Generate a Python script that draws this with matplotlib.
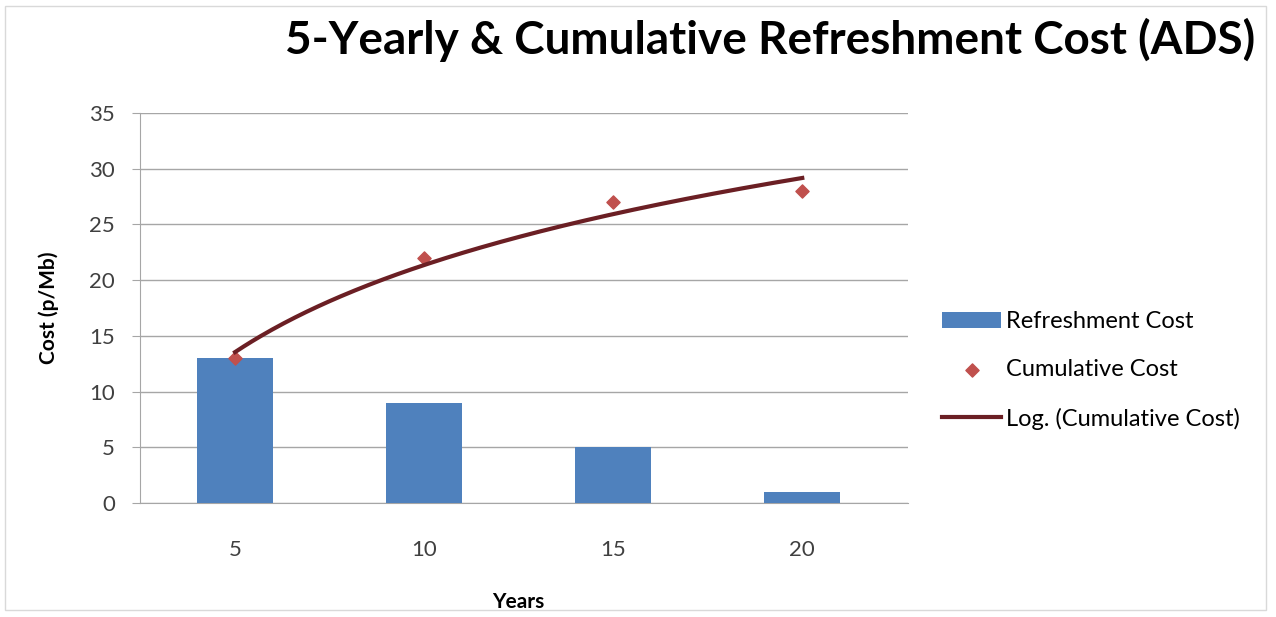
import numpy as np
from matplotlib import pyplot as plt
from matplotlib.patches import Rectangle

years = ['5', '10', '15', '20']
refreshment_cost = [13, 9, 5, 1]
cumulative_cost = [13, 22, 27, 28]

plt.rcParams['font.family'] = ['Lato', 'DejaVu Sans']

fig = plt.figure(figsize=(12.76, 6.17), dpi=100)
ax = fig.add_axes([0.1097, 0.1848, 0.602, 0.632])

x = np.arange(len(years))
bars = ax.bar(x, refreshment_cost, 0.4, color='#4F81BD', label='Refreshment Cost', zorder=3)
pts = ax.scatter(x, cumulative_cost, marker='D', s=45, color='#C0504D',
                 label='Cumulative Cost', zorder=4)

# Excel-style log trendline, y = a*ln(k) + b with k = 1..n
k = x + 1
a, b = np.polyfit(np.log(k), cumulative_cost, 1)
kk = np.linspace(1, len(years), 200)
line, = ax.plot(kk - 1, a * np.log(kk) + b, color='#6B1F24', lw=3,
                label='Log. (Cumulative Cost)', zorder=5)

ax.set_xlim(-0.503, 3.56)
ax.set_ylim(0, 35)
ax.set_yticks(range(0, 36, 5))
ax.set_xticks(x)
ax.set_xticklabels(years)
ax.grid(axis='y', color='#A6A6A6', lw=1, zorder=0)
for s in ['top', 'right']:
    ax.spines[s].set_visible(False)
ax.spines['left'].set_color('#A6A6A6')
ax.spines['bottom'].set_color('#A6A6A6')
ax.tick_params(axis='y', length=6, color='#A6A6A6', labelsize=16, labelcolor='#404040', pad=12)
ax.tick_params(axis='x', length=0, labelsize=16, labelcolor='#404040', pad=27)

ax.set_xlabel('Years', fontsize=15, fontweight='bold')
ax.xaxis.set_label_coords(0.492, -0.228)
ax.set_ylabel('Cost (p/Mb)', fontsize=15, fontweight='bold', labelpad=22)

fig.text(0.984, 0.935, '5-Yearly & Cumulative Refreshment Cost (ADS)',
         fontsize=33, fontweight='bold', ha='right', va='center')

ax.legend([bars, pts, line], ['Refreshment Cost', 'Cumulative Cost', 'Log. (Cumulative Cost)'],
          loc='center left', bbox_to_anchor=(1.017, 0.34), frameon=False,
          fontsize=17, handlelength=2.5, labelspacing=1.15, handletextpad=0.2)

fig.patches.append(Rectangle((0.004, 0.012), 0.988, 0.978, transform=fig.transFigure,
                             fill=False, edgecolor='#D9D9D9', lw=1))

fig.savefig('out.png', dpi=100)
